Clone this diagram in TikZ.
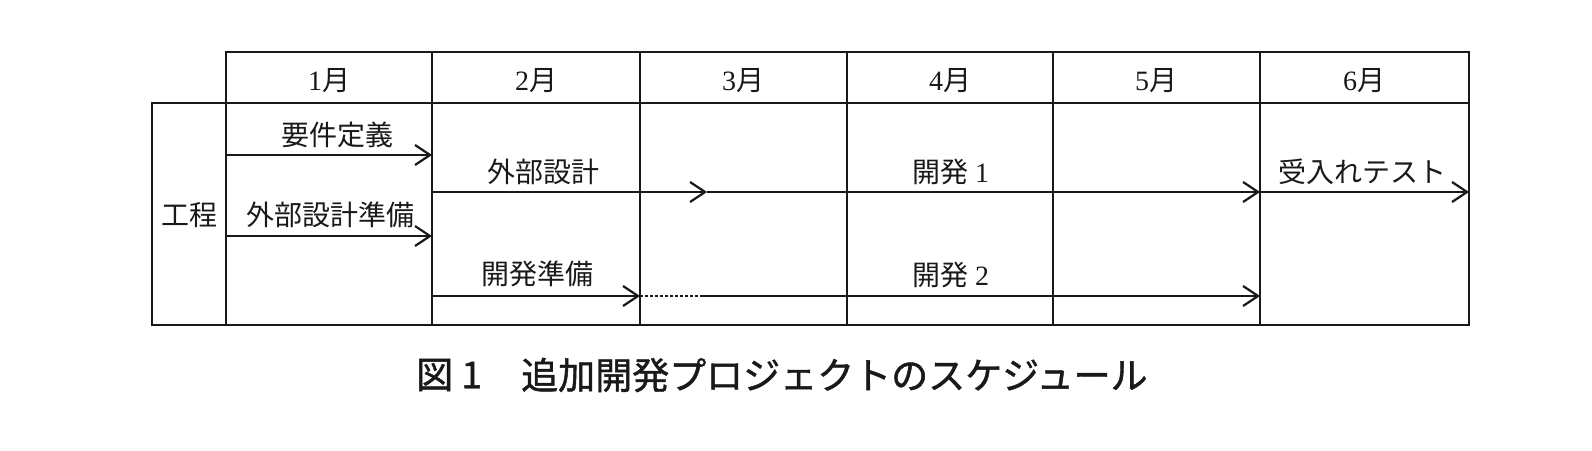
\documentclass[tikz,border=0pt]{standalone}
\usepackage{fontspec}
\newfontfamily\jpfont{Noto Sans CJK JP}
\newfontfamily\capfont[FakeBold=1.2]{Noto Sans CJK JP}
\newfontfamily\digfont{Liberation Serif}
\usetikzlibrary{arrows.meta}
\newcommand\dg[1]{{\digfont #1}}
\begin{document}
\begin{tikzpicture}[x=1pt,y=-1pt,
  tbl/.style={line width=2.6pt, line join=miter, black!90},
  lbl/.style={font=\jpfont\fontsize{28}{30}\selectfont, inner sep=0pt, text=black!90},
  captext/.style={font=\capfont\fontsize{37}{40}\selectfont, inner sep=0pt, text=black!90, anchor=west},
  conn/.style={line width=2.2pt, black!90, -{Straight Barb[length=15pt,width=20pt]}},
  dotline/.style={line width=2pt, black!90, dash pattern=on 2.5pt off 2.5pt}
]
\useasboundingbox (0,0) rectangle (1592,450);
\fill[white] (0,0) rectangle (1592,450);

% grid
\draw[tbl] (226,52) rectangle (1469,325);
\draw[tbl] (152,103) rectangle (226,325);
\draw[tbl] (226,103) -- (1469,103);
\foreach \x in {432,640,847,1053,1260} \draw[tbl] (\x,52) -- (\x,325);

% headers
\node[lbl] (m1) at (329,81) {\dg{1}月};
\node[lbl] (m2) at (536,81) {\dg{2}月};
\node[lbl] (m3) at (743,81) {\dg{3}月};
\node[lbl] (m4) at (950,81) {\dg{4}月};
\node[lbl] (m5) at (1156,81) {\dg{5}月};
\node[lbl] (m6) at (1364,81) {\dg{6}月};

% labels
\node[lbl] (koutei) at (189,215) {工程};
\node[lbl] (youken) at (337,135) {要件定義};
\node[lbl] (gjunbi) at (330,215) {外部設計準備};
\node[lbl] (gaibu) at (543,172) {外部設計};
\node[lbl] (kjunbi) at (537,274) {開発準備};
\node[lbl] (kai1) at (951,172) {開発 \dg{1}};
\node[lbl] (kai2) at (951,275) {開発 \dg{2}};
\node[lbl] (ukeire) at (1362,172) {受入れテスト};

% connector points
\coordinate (a1s) at (226,155); \coordinate (a1e) at (432,155);
\coordinate (a2s) at (226,236); \coordinate (a2e) at (432,236);
\coordinate (b1s) at (432,192); \coordinate (b1m) at (707,192);
\coordinate (b1e) at (1260,192); \coordinate (b2e) at (1469,192);
\coordinate (c1s) at (432,296); \coordinate (c1e) at (640,296);
\coordinate (c1d) at (703,296); \coordinate (c1f) at (1260,296);

\draw[conn] (a1s) -- (a1e);
\draw[conn] (a2s) -- (a2e);
\draw[conn] (b1s) -- (b1m);
\draw[conn] (b1m) -- (b1e);
\draw[conn] (b1e) -- (b2e);
\draw[conn] (c1s) -- (c1e);
\draw[dotline] (c1e) -- (c1d);
\draw[conn] (c1d) -- (c1f);

% caption
\node[captext] (fig) at (416,375) {図 1};
\node[captext] (title) at (521,375) {追加開発プロジェクトのスケジュール};
\end{tikzpicture}
\end{document}
